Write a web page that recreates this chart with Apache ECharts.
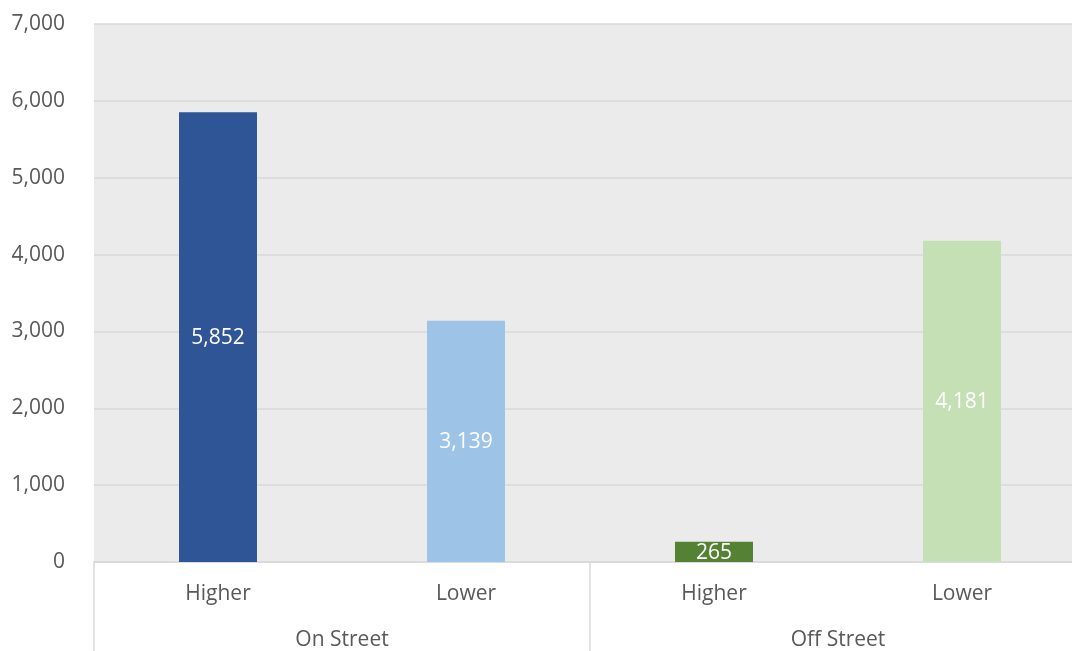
<!DOCTYPE html>
<html>
<head>
<meta charset="utf-8">
<script src="https://cdn.jsdelivr.net/npm/echarts@6/dist/echarts.min.js"></script>
<style>
  html, body { margin: 0; padding: 0; background: #ffffff; overflow: hidden; }
  #frame { width: 1072px; height: 651px; overflow: hidden; }
  /* the plot runs slightly past the right edge of the frame */
  #chart { width: 1086px; height: 651px; }
</style>
</head>
<body>
<div id="frame"><div id="chart"></div></div>
<script>
// Parking spaces by location and tier
const subCategories = ['Higher', 'Lower', 'Higher', 'Lower'];
const groups = ['On Street', 'Off Street'];
const values = [5852, 3139, 265, 4181];
const barColors = ['#2f5597', '#9dc3e6', '#548235', '#c5e0b4'];
const yTicks = { min: 0, max: 7000, interval: 1000 };

const FONT = 'Open Sans';
const SIZE = 21;
const TEXT = '#595959';
const LINE = '#d9d9d9';

const chart = echarts.init(document.getElementById('chart'), null, { renderer: 'canvas' });

chart.setOption({
  animation: false,
  textStyle: { fontFamily: FONT },
  grid: {
    left: 94,
    top: 24,
    right: 0,
    bottom: 89,
    containLabel: false,
    show: true,
    backgroundColor: '#ebebeb',
    borderWidth: 0
  },
  xAxis: [
    {
      type: 'category',
      data: subCategories,
      position: 'bottom',
      axisLine: { show: true, lineStyle: { color: LINE, width: 1.5 } },
      axisTick: { show: false },
      axisLabel: { color: TEXT, fontSize: SIZE, fontFamily: FONT, margin: 22 }
    },
    {
      type: 'category',
      data: groups,
      position: 'bottom',
      axisLine: { show: false },
      axisTick: {
        show: true,
        alignWithLabel: false,
        length: 95,
        lineStyle: { color: LINE, width: 1.5 }
      },
      axisLabel: { color: TEXT, fontSize: SIZE, fontFamily: FONT, margin: 68 }
    }
  ],
  yAxis: {
    type: 'value',
    min: yTicks.min,
    max: yTicks.max,
    interval: yTicks.interval,
    axisLine: { show: false },
    axisTick: { show: false },
    splitLine: { show: true, lineStyle: { color: LINE, width: 1.5 } },
    axisLabel: {
      color: TEXT,
      fontSize: SIZE,
      fontFamily: FONT,
      margin: 29,
      padding: [4, 0, 0, 0],
      formatter: v => v.toLocaleString('en-US')
    }
  },
  series: [
    {
      type: 'bar',
      xAxisIndex: 0,
      barWidth: 78,
      data: values.map((v, i) => ({ value: v, itemStyle: { color: barColors[i] } })),
      label: {
        show: true,
        position: 'inside',
        offset: [0, 1],
        color: '#ffffff',
        fontSize: SIZE,
        fontFamily: FONT,
        formatter: p => p.value.toLocaleString('en-US')
      }
    }
  ]
});
</script>
</body>
</html>
